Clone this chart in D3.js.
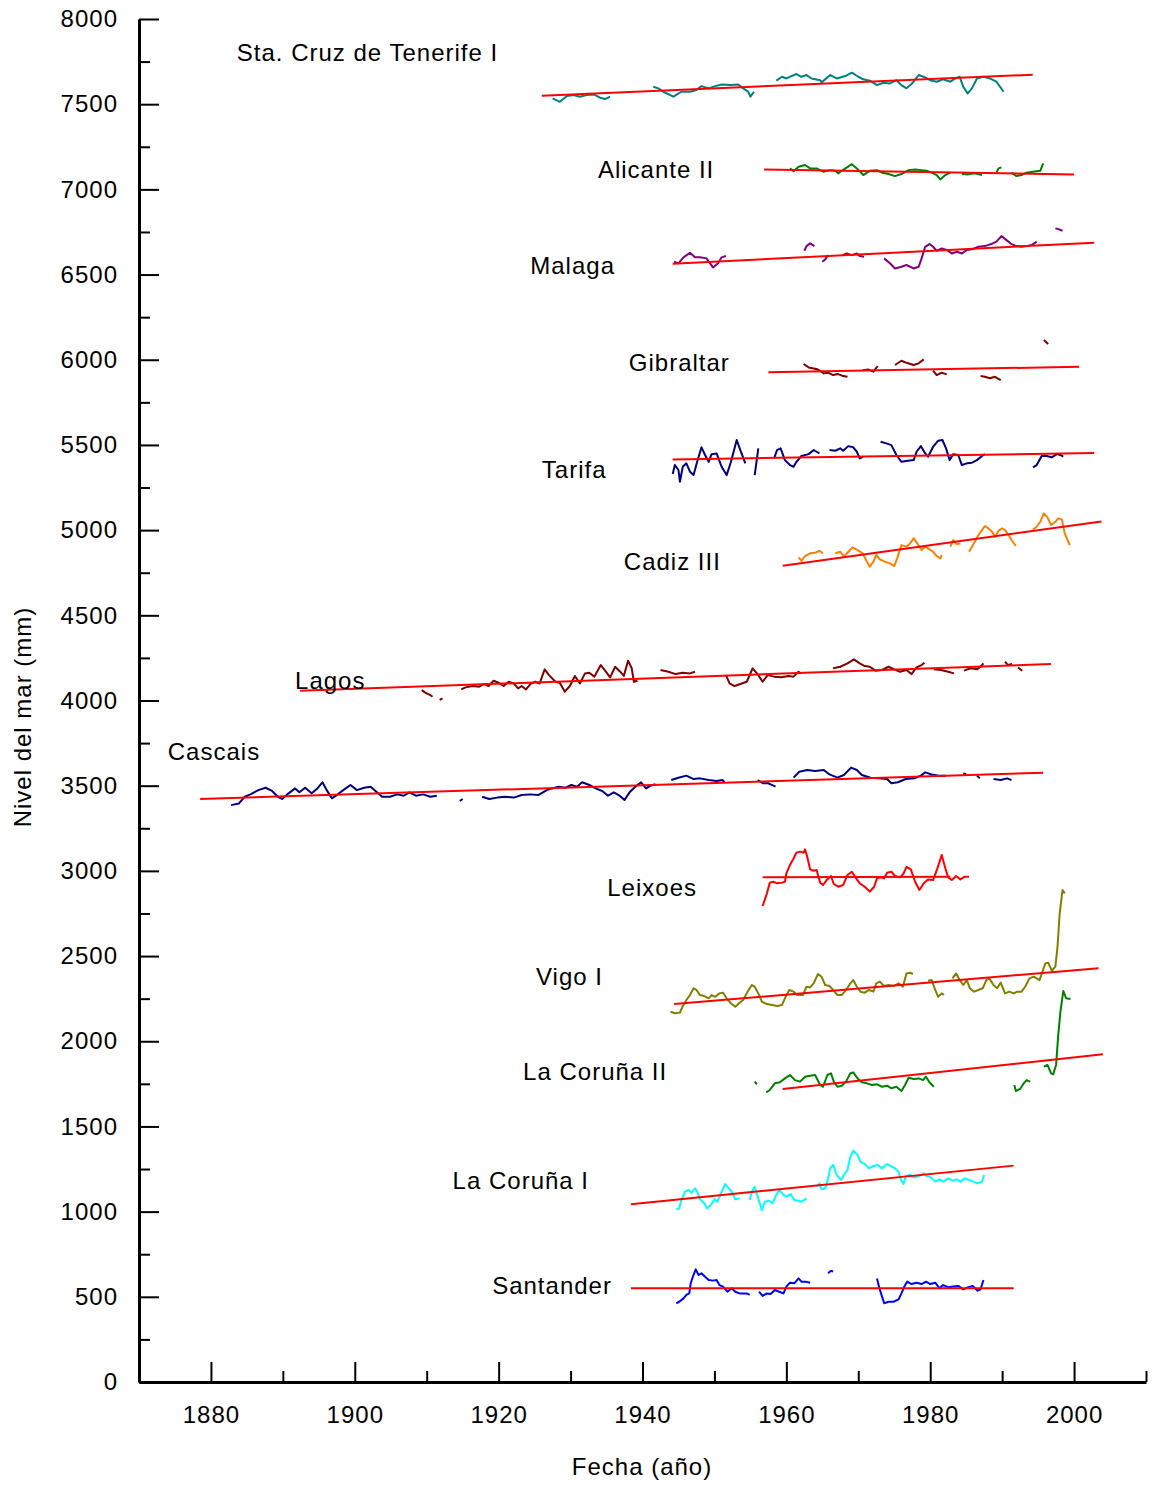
<!DOCTYPE html>
<html>
<head>
<meta charset="utf-8">
<script src="https://cdn.jsdelivr.net/npm/d3@7"></script>
<style>
  html, body { margin: 0; padding: 0; background: #fff; }
  svg text { font-family: "Liberation Sans", Arial, sans-serif; fill: #000; letter-spacing: 1px; }
</style>
</head>
<body>
<svg id="chart" width="1156" height="1485"></svg>
<script>
// Tide-gauge records: [year, sea level in mm]; null marks a gap in the record.
const tenerife = [[1927.5,7534],[1928.5,7514],[1929.5,7548],[1930.4,7554],[1931.3,7544],[1932.2,7554],[1933.2,7557],[1934.1,7538],[1934.8,7530],[1935.5,7544],null,
  [1941.5,7602],[1942.2,7593],[1942.9,7573],[1944.3,7544],[1945.4,7573],[1946.6,7573],[1947.5,7583],[1948.2,7606],[1949.2,7593],[1950.1,7606],[1951.0,7616],[1952.2,7612],[1953.3,7616],[1954.0,7593],[1954.7,7573],[1955.0,7544],[1955.5,7573],null,
  [1958.6,7638],[1959.4,7661],[1960.0,7651],[1960.7,7665],[1961.4,7677],[1962.1,7661],[1962.8,7671],[1963.5,7651],[1964.7,7641],[1964.9,7628],[1966.1,7671],[1967.0,7651],[1968.2,7665],[1969.1,7685],[1970.0,7661],[1970.7,7646],[1971.6,7638],[1972.6,7612],[1973.5,7626],[1974.4,7622],[1975.3,7641],[1976.0,7612],[1976.7,7593],[1977.4,7618],[1978.4,7671],[1979.3,7657],[1980.0,7641],[1980.9,7632],[1981.8,7646],[1982.8,7632],[1983.5,7651],[1984.1,7661],[1984.6,7602],[1985.2,7563],[1985.8,7593],[1986.5,7651],[1987.4,7661],[1988.3,7651],[1989.2,7632],[1990.2,7573]];
const tenerifeTrend = [[1926.0,7550],[1994.25,7673]];

const alicante = [[1960.5,7123],[1961.0,7107],[1961.7,7133],[1962.6,7143],[1963.3,7123],[1964.2,7123],[1965.1,7104],[1966.1,7113],[1966.8,7109],[1967.2,7094],[1967.7,7109],[1969.1,7148],[1969.8,7123],[1970.7,7084],[1971.6,7109],[1972.6,7113],[1973.3,7098],[1974.2,7090],[1975.1,7078],[1976.0,7090],[1977.0,7113],[1977.9,7117],[1978.8,7113],[1979.5,7109],[1980.2,7098],[1980.9,7084],[1981.4,7058],[1982.1,7084],[1982.8,7098],null,
  [1984.4,7090],[1985.3,7088],[1986.2,7094],[1987.2,7084],null,
  [1989.2,7098],[1989.5,7123],[1989.9,7129],null,
  [1991.3,7098],[1992.0,7078],[1992.7,7084],[1993.4,7098],[1994.3,7104],[1995.3,7109],[1995.7,7152]];
const alicanteTrend = [[1956.9,7117],[2000.0,7088]];

const malaga = [[1944.4,6575],[1945.0,6566],[1945.7,6601],[1946.6,6628],[1947.3,6601],[1948.0,6601],[1948.9,6595],[1949.4,6566],[1949.8,6542],[1950.5,6566],[1951.0,6601],[1951.6,6609],null,
  [1962.5,6640],[1962.8,6667],[1963.3,6683],[1963.9,6667],null,
  [1965.0,6575],[1965.4,6589],[1965.8,6614],null,
  [1967.8,6614],[1968.4,6624],[1969.1,6614],[1969.8,6624],[1970.2,6609],[1970.8,6605],null,
  [1973.6,6595],[1974.4,6566],[1975.1,6536],[1976.0,6546],[1976.7,6556],[1977.7,6536],[1978.4,6546],[1978.8,6595],[1979.3,6663],[1979.9,6679],[1980.4,6663],[1980.9,6640],[1981.6,6653],[1982.3,6644],[1983.0,6624],[1983.7,6634],[1984.4,6624],[1985.1,6644],[1985.8,6648],[1986.7,6663],[1987.6,6667],[1988.5,6679],[1989.2,6693],[1989.9,6726],[1990.6,6702],[1991.3,6679],[1992.0,6667],[1992.7,6663],[1993.4,6667],[1994.1,6673],[1994.8,6693],null,
  [1997.4,6771],[1997.8,6767],[1998.4,6757]];
const malagaTrend = [[1944.2,6563],[2002.8,6687]];

const gibraltar = [[1962.4,5975],[1963.1,5955],[1963.8,5949],[1964.4,5943],[1965.2,5920],[1965.8,5924],[1966.5,5910],[1967.2,5916],[1967.9,5904],[1968.5,5900],null,
  [1970.6,5939],[1971.4,5943],[1972.1,5930],[1972.7,5963],null,
  [1975.1,5969],[1976.0,5994],[1976.7,5982],[1977.7,5969],[1978.4,5979],[1979.1,6002],null,
  [1980.4,5936],[1980.9,5910],[1981.6,5924],[1982.3,5914],null,
  [1987.0,5904],[1987.6,5900],[1988.3,5891],[1989.0,5900],[1989.8,5881],null,
  [1995.8,6116],[1996.4,6092]];
const gibraltarTrend = [[1957.5,5926],[2000.7,5959]];

const tarifa = [[1944.2,5329],[1944.5,5382],[1945.0,5353],[1945.2,5284],[1945.6,5372],[1946.1,5392],[1946.6,5343],[1947.1,5323],[1947.6,5401],[1948.2,5486],[1948.7,5441],[1949.2,5401],[1949.6,5446],[1950.3,5450],[1951.0,5372],[1951.7,5323],[1952.3,5401],[1953.1,5529],[1953.6,5470],[1954.3,5392],null,
  [1955.6,5323],[1956.1,5480],null,
  [1958.3,5421],[1958.7,5470],[1959.2,5480],[1959.8,5411],[1960.5,5382],[1961.0,5372],[1961.4,5401],[1962.1,5435],[1963.1,5446],[1963.8,5470],[1964.2,5460],[1964.6,5450],null,
  [1966.0,5470],[1966.8,5466],[1967.5,5480],[1967.9,5466],[1968.6,5493],[1969.3,5486],[1969.8,5460],[1970.2,5421],[1970.7,5431],null,
  [1973.1,5519],[1973.9,5509],[1974.6,5499],[1975.3,5441],[1976.0,5401],[1976.9,5407],[1977.7,5411],[1978.1,5460],[1978.7,5493],[1979.3,5450],[1979.7,5431],[1980.4,5489],[1981.1,5525],[1981.7,5529],[1982.2,5480],[1982.7,5411],[1983.2,5446],[1983.9,5441],[1984.4,5382],[1985.1,5392],[1985.8,5396],[1986.5,5411],[1987.2,5435],[1987.6,5446],null,
  [1994.3,5368],[1994.8,5382],[1995.5,5435],[1996.2,5435],[1996.9,5427],[1997.6,5446],[1998.1,5441],[1998.5,5431]];
const tarifaTrend = [[1944.2,5415],[2002.8,5452]];

const cadiz = [[1961.7,4840],[1962.1,4820],[1962.6,4848],[1963.3,4864],[1964.0,4867],[1964.6,4879],[1965.1,4864],null,
  [1966.8,4864],[1967.5,4873],[1968.0,4844],[1968.5,4867],[1969.2,4899],[1969.9,4883],[1970.6,4864],[1971.2,4815],[1971.6,4785],[1972.1,4815],[1972.5,4854],[1973.0,4828],[1973.7,4815],[1974.4,4805],[1975.0,4789],[1975.4,4834],[1976.0,4912],[1976.7,4903],[1977.2,4922],[1977.7,4952],[1978.2,4922],[1978.8,4883],[1979.3,4903],[1979.9,4887],[1980.4,4873],[1980.9,4848],[1981.4,4834],[1981.6,4854],null,
  [1982.8,4903],[1983.2,4942],[1983.7,4918],[1984.2,4922],null,
  [1985.4,4873],[1985.8,4903],[1986.2,4932],[1986.7,4971],[1987.2,5000],[1987.6,5024],[1988.1,5010],[1988.6,4991],[1989.0,4961],[1989.5,4997],[1990.0,5010],[1990.4,5000],[1990.9,4971],[1991.3,4942],[1991.9,4907],null,
  [1994.3,5004],[1994.8,5020],[1995.3,5049],[1995.8,5098],[1996.3,5075],[1996.8,5030],[1997.4,5049],[1997.8,5069],[1998.3,5063],[1998.7,4981],[1999.4,4912]];
const cadizTrend = [[1959.5,4791],[2003.8,5051]];

const lagos = [[1909.3,4061],[1909.8,4046],[1910.5,4032],[1910.8,4022],null,
  [1911.8,4003],[1912.2,4012],null,
  [1914.8,4065],[1915.4,4077],[1916.4,4085],[1917.3,4081],[1918.0,4097],[1918.6,4085],[1919.3,4116],[1920.0,4104],[1920.7,4085],[1921.4,4110],[1922.1,4100],[1922.7,4071],[1923.2,4085],[1923.8,4065],[1924.5,4100],[1925.1,4110],[1925.7,4100],[1926.4,4183],[1927.0,4149],[1927.9,4110],[1928.5,4104],[1929.2,4052],[1929.9,4085],[1930.6,4144],[1931.3,4100],[1932.0,4159],[1932.6,4163],[1933.3,4140],[1934.2,4208],[1934.8,4175],[1935.5,4136],[1936.2,4198],[1936.9,4169],[1937.4,4144],[1938.0,4234],[1938.5,4189],[1938.8,4110],[1939.3,4116],null,
  [1942.5,4179],[1943.6,4169],[1944.6,4155],[1945.6,4163],[1946.6,4159],[1947.3,4169],null,
  [1951.6,4149],[1952.1,4100],[1952.8,4085],[1953.8,4100],[1954.5,4110],[1955.3,4189],[1956.0,4155],[1956.7,4110],[1957.4,4149],[1958.3,4140],[1959.3,4136],[1960.3,4144],[1961.0,4140],[1961.7,4169],[1962.0,4159],null,
  [1966.5,4189],[1967.5,4198],[1968.5,4218],[1969.4,4241],[1970.2,4218],[1970.9,4202],[1971.6,4198],[1972.4,4175],[1973.3,4179],[1974.2,4198],[1975.0,4183],[1975.8,4169],[1976.7,4179],[1977.4,4155],[1978.1,4194],[1978.8,4208],[1979.2,4222],null,
  [1980.5,4183],[1981.5,4179],[1982.5,4169],[1983.3,4159],null,
  [1984.7,4175],[1985.6,4189],[1986.5,4183],[1987.0,4198],[1987.4,4218],null,
  [1990.4,4228],[1990.8,4208],[1991.4,4214],null,
  [1992.2,4194],[1992.8,4175]];
const lagosTrend = [[1892.4,4057],[1996.8,4214]];

const cascais = [[1882.8,3386],[1883.9,3396],[1884.7,3435],[1885.5,3449],[1886.6,3474],[1887.6,3488],[1888.5,3469],[1889.3,3435],[1889.9,3422],[1890.8,3455],[1891.7,3484],[1892.3,3461],[1893.1,3488],[1894.0,3455],[1894.8,3484],[1895.5,3520],[1896.1,3474],[1896.8,3426],[1897.5,3445],[1898.4,3474],[1899.4,3504],[1900.3,3474],[1901.3,3488],[1902.2,3494],[1903.0,3465],[1903.8,3435],[1904.9,3435],[1905.9,3449],[1906.8,3441],[1907.6,3461],[1908.5,3441],[1909.5,3449],[1910.5,3435],[1911.4,3441],null,
  [1914.6,3410],[1915.0,3422],null,
  [1917.7,3435],[1918.7,3422],[1919.8,3430],[1920.9,3435],[1922.1,3430],[1923.2,3445],[1924.4,3449],[1925.5,3445],[1926.7,3474],[1927.4,3484],[1928.3,3494],[1929.3,3488],[1930.1,3504],[1930.9,3494],[1931.6,3520],[1932.6,3504],[1933.5,3484],[1934.4,3469],[1935.2,3441],[1936.0,3461],[1936.7,3445],[1937.5,3416],[1938.2,3461],[1939.0,3494],[1939.8,3520],[1940.5,3484],[1941.1,3500],[1941.8,3508],null,
  [1944.0,3533],[1945.0,3547],[1946.1,3559],[1947.1,3539],[1948.0,3543],[1949.2,3533],[1950.3,3527],[1951.1,3533],[1951.4,3520],null,
  [1956.0,3533],[1956.8,3514],[1957.5,3514],[1958.5,3494],null,
  [1961.0,3547],[1961.8,3582],[1962.9,3592],[1964.0,3586],[1965.2,3592],[1966.0,3566],[1967.1,3547],[1968.0,3563],[1969.0,3606],[1969.8,3592],[1970.5,3563],[1971.7,3547],[1972.8,3543],[1974.0,3539],[1974.6,3514],[1975.5,3520],[1976.6,3539],[1977.8,3543],[1978.7,3559],[1979.3,3578],[1980.2,3566],[1981.2,3559],[1982.2,3559],null,
  [1984.6,3572],[1985.0,3567],null,
  [1986.5,3559],[1986.9,3543],null,
  [1988.8,3539],[1989.8,3533],[1990.7,3543],[1991.3,3533]];
const cascaisTrend = [[1878.5,3422],[1995.7,3576]];

const leixoes = [[1956.7,2794],[1956.9,2819],[1957.3,2868],[1957.7,2931],[1958.2,2936],[1958.7,2927],[1959.4,2931],[1959.8,2936],[1960.0,2985],[1960.5,3034],[1961.0,3073],[1961.4,3107],[1961.9,3113],[1962.4,3107],[1962.6,3126],[1962.9,3083],[1963.3,3009],[1963.8,3001],[1964.2,3005],[1964.7,2931],[1965.1,2917],[1965.6,2946],[1966.2,2970],[1966.6,2923],[1967.2,2907],[1967.9,2917],[1968.5,2976],[1969.1,2995],[1969.7,2956],[1970.2,2927],[1970.9,2907],[1971.6,2878],[1972.2,2907],[1972.6,2956],[1973.1,2962],[1973.6,2956],[1974.0,2989],[1974.6,2995],[1975.1,2970],[1975.8,2962],[1976.3,2985],[1976.7,3024],[1977.3,3009],[1977.9,2936],[1978.5,2888],[1979.1,2927],[1979.7,2950],[1980.4,2946],[1981.0,3015],[1981.6,3093],[1982.1,3015],[1982.5,2962],[1983.0,2946],[1983.6,2970],[1984.2,2950],[1984.8,2966],[1985.4,2966]];
const leixoesTrend = [[1956.7,2962],[1982.8,2966]];

const vigo = [[1943.9,2173],[1944.5,2164],[1945.2,2168],[1945.6,2207],[1946.1,2242],[1946.6,2271],[1947.1,2311],[1947.5,2301],[1948.0,2271],[1948.6,2265],[1949.2,2252],[1949.6,2271],[1950.1,2261],[1950.7,2281],[1951.2,2285],[1951.7,2252],[1952.3,2222],[1952.9,2203],[1953.5,2226],[1954.0,2242],[1954.6,2291],[1955.2,2330],[1955.6,2320],[1956.1,2281],[1956.6,2232],[1957.3,2218],[1958.0,2213],[1958.7,2207],[1959.4,2213],[1959.8,2252],[1960.4,2301],[1961.0,2291],[1961.5,2271],[1962.3,2271],[1962.8,2320],[1963.3,2316],[1963.8,2340],[1964.4,2395],[1964.9,2379],[1965.4,2330],[1966.0,2324],[1966.5,2301],[1967.1,2271],[1967.7,2271],[1968.3,2301],[1968.9,2340],[1969.3,2359],[1969.8,2320],[1970.3,2291],[1970.9,2285],[1971.5,2301],[1972.1,2291],[1972.5,2340],[1973.0,2350],[1973.6,2324],[1974.2,2330],[1974.9,2324],[1975.6,2340],[1976.2,2320],[1976.7,2398],[1977.2,2402],[1977.6,2395],null,
  [1979.7,2355],[1980.2,2359],[1980.7,2301],[1981.1,2261],[1981.6,2281],[1981.9,2271],null,
  [1983.1,2369],[1983.6,2398],[1984.1,2359],[1984.6,2330],[1985.1,2359],[1985.5,2311],[1986.1,2291],[1986.7,2301],[1987.3,2311],[1987.8,2359],[1988.2,2369],[1988.8,2330],[1989.3,2311],[1989.8,2344],[1990.4,2281],[1991.0,2291],[1991.6,2281],[1992.1,2291],[1992.7,2291],[1993.2,2320],[1993.8,2369],[1994.4,2379],[1995.2,2359],[1995.6,2408],[1996.0,2457],[1996.4,2461],[1996.9,2414],[1997.4,2438],[1997.7,2555],[1998.0,2751],[1998.4,2888],[1998.7,2868]];
const vigoTrend = [[1944.4,2218],[2003.4,2428]];

const coruna2 = [[1955.6,1763],[1955.9,1747],null,
  [1957.2,1700],[1957.7,1714],[1958.4,1753],[1959.1,1759],[1959.8,1782],[1960.5,1802],[1961.2,1772],[1961.9,1763],[1962.6,1792],[1963.3,1798],[1964.0,1802],[1964.7,1743],[1965.1,1733],[1965.7,1802],[1966.2,1812],[1966.6,1763],[1967.1,1733],[1967.7,1739],[1968.3,1763],[1968.9,1812],[1969.3,1817],[1969.9,1782],[1970.5,1759],[1971.2,1753],[1971.9,1743],[1972.6,1747],[1973.3,1733],[1974.0,1739],[1974.6,1724],[1975.3,1733],[1976.0,1708],[1976.5,1743],[1977.0,1786],[1977.7,1778],[1978.4,1782],[1979.0,1772],[1979.4,1792],[1979.9,1759],[1980.5,1733],null,
  [1991.7,1743],[1991.9,1708],[1992.5,1720],[1993.0,1753],[1993.4,1772],[1993.9,1763],null,
  [1995.8,1851],[1996.3,1861],[1996.8,1812],[1997.1,1806],[1997.5,1861],[1997.8,2037],[1998.1,2173],[1998.5,2295],[1998.9,2252],[1999.5,2248]];
const coruna2Trend = [[1959.5,1720],[2004.0,1923]];

const coruna1 = [[1944.7,1013],[1945.1,1019],[1945.4,1068],[1945.9,1117],[1946.4,1127],[1946.8,1111],[1947.3,1137],[1947.6,1117],[1948.0,1072],[1948.6,1049],[1949.0,1019],[1949.5,1039],[1950.0,1072],[1950.4,1058],[1950.9,1107],[1951.5,1162],[1952.0,1137],[1952.4,1117],[1952.9,1072],[1953.5,1078],null,
  [1954.9,1068],[1955.2,1117],[1955.6,1146],[1956.1,1078],[1956.6,1009],[1957.0,1058],[1957.6,1064],[1958.1,1049],[1958.6,1098],[1959.0,1127],[1959.6,1098],[1960.0,1088],[1960.6,1103],[1961.1,1068],[1961.7,1064],[1962.1,1058],[1962.6,1072],[1962.8,1078],null,
  [1964.2,1146],[1964.6,1166],[1964.9,1131],[1965.4,1137],[1965.7,1176],[1966.1,1254],[1966.5,1274],[1967.0,1215],[1967.6,1186],[1968.0,1215],[1968.5,1244],[1968.9,1323],[1969.3,1358],[1969.9,1332],[1970.3,1293],[1970.9,1279],[1971.5,1254],[1972.1,1268],[1972.7,1274],[1973.3,1254],[1974.0,1279],[1974.5,1268],[1975.1,1254],[1975.6,1234],[1975.9,1189],[1976.3,1162],[1976.6,1209],[1977.2,1215],[1977.8,1201],[1978.4,1209],[1979.1,1225],[1979.5,1209],[1980.1,1201],[1980.7,1176],[1981.3,1189],[1981.8,1176],[1982.5,1195],[1983.1,1182],[1983.7,1189],[1984.2,1176],[1984.8,1195],[1985.4,1186],[1986.0,1176],[1986.6,1166],[1987.2,1176],[1987.5,1215]];
const coruna1Trend = [[1938.4,1043],[1991.6,1270]];

const santander = [[1944.7,462],[1945.1,471],[1945.7,491],[1946.1,511],[1946.5,520],[1946.7,579],[1947.0,618],[1947.4,661],[1947.8,628],[1948.2,638],[1948.7,618],[1949.2,599],[1949.8,595],[1950.3,599],[1950.7,569],[1951.2,560],[1951.8,530],[1952.4,550],[1952.9,530],[1953.5,520],[1954.1,520],[1954.5,520],[1954.9,511],null,
  [1956.2,530],[1956.7,505],[1957.3,520],[1957.8,516],[1958.4,540],[1959.0,530],[1959.6,520],[1960.0,560],[1960.5,583],[1961.1,579],[1961.7,608],[1962.1,589],[1962.7,589],[1963.3,583],null,
  [1965.8,638],[1966.2,653],[1966.5,648],null,
  [1972.6,608],[1972.9,556],[1973.3,501],[1973.6,462],[1974.2,471],[1974.9,471],[1975.6,485],[1976.0,520],[1976.4,560],[1976.8,589],[1977.4,575],[1978.1,583],[1978.8,575],[1979.4,589],[1980.0,575],[1980.7,583],[1981.3,550],[1981.8,569],[1982.5,556],[1983.2,560],[1983.9,564],[1984.6,544],[1985.3,556],[1985.9,564],[1986.6,536],[1987.0,544],[1987.4,599]];
const santanderTrend = [[1938.4,550],[1991.6,550]];

// Station names, with the [year, level] where each name is written.
const stationNames = ["Sta. Cruz de Tenerife I","Alicante II","Malaga","Gibraltar","Tarifa","Cadiz III","Lagos","Cascais","Leixoes","Vigo I","La Coruña II","La Coruña I","Santander"];
const nameAnchors = [[1883.6,7800],[1933.8,7119],[1924.4,6550],[1938.1,5986],[1926.0,5358],[1937.4,4813],[1891.7,4114],[1874.0,3703],[1935.1,2899],[1925.2,2377],[1923.4,1819],[1913.6,1180],[1919.1,563]];
const records = [tenerife, alicante, malaga, gibraltar, tarifa, cadiz, lagos, cascais, leixoes, vigo, coruna2, coruna1, santander];
const trends = [tenerifeTrend, alicanteTrend, malagaTrend, gibraltarTrend, tarifaTrend, cadizTrend, lagosTrend, cascaisTrend, leixoesTrend, vigoTrend, coruna2Trend, coruna1Trend, santanderTrend];
const colors = ["#008080","#008000","#800080","#800000","#000080","#ff8000","#800000","#000080","#ff0000","#808000","#008000","#00ffff","#0000ff"];

// Axis ticks
const yMajor = d3.range(0, 8001, 500);
const yMinor = d3.range(250, 8000, 500);
const xMajor = [1880, 1900, 1920, 1940, 1960, 1980, 2000];
const xMinor = [1890, 1910, 1930, 1950, 1970, 1990, 2010];

const svg = d3.select("#chart");
const x = d3.scaleLinear().domain([1870, 2010]).range([139, 1146]);
const y = d3.scaleLinear().domain([0, 8000]).range([1382, 19]);
const FONT = 24;

// Records and their trend lines
const line = d3.line().defined(d => d !== null).x(d => x(d[0])).y(d => y(d[1]));
const plot = svg.append("g");
records.forEach((rec, i) => {
  plot.append("path").attr("d", line(rec)).attr("fill", "none")
    .attr("stroke", colors[i]).attr("stroke-width", 2).attr("stroke-linejoin", "round");
});
trends.forEach(tr => {
  plot.append("path").attr("d", line(tr)).attr("fill", "none")
    .attr("stroke", "#ff0000").attr("stroke-width", 2);
});

// Station names
stationNames.forEach((name, i) => {
  svg.append("text").attr("x", x(nameAnchors[i][0])).attr("y", y(nameAnchors[i][1]))
    .attr("dy", "0.35em").attr("font-size", FONT).text(name);
});

// Axes
function styleAxis(g) {
  g.selectAll("path.domain").attr("stroke", "#000").attr("stroke-width", 3);
  g.selectAll(".tick line").attr("stroke", "#000").attr("stroke-width", 2);
  g.selectAll(".tick text").attr("font-size", FONT).attr("font-family", "Liberation Sans, Arial, sans-serif").attr("fill", "#000");
}
svg.append("g").attr("transform", "translate(139,0)")
  .call(d3.axisLeft(y).tickValues(yMinor).tickSizeInner(-11).tickSizeOuter(0).tickFormat(""))
  .call(g => g.select(".domain").remove())
  .call(styleAxis);
svg.append("g").attr("transform", "translate(139,0)")
  .call(d3.axisLeft(y).tickValues(yMajor).tickSizeInner(-20).tickSizeOuter(0).tickPadding(21).tickFormat(d3.format("d")))
  .call(styleAxis);
svg.append("g").attr("transform", "translate(0,1382)")
  .call(d3.axisBottom(x).tickValues(xMinor).tickSizeInner(-11).tickSizeOuter(0).tickFormat(""))
  .call(g => g.select(".domain").remove())
  .call(styleAxis);
svg.append("g").attr("transform", "translate(0,1382)")
  .call(d3.axisBottom(x).tickValues(xMajor).tickSizeInner(-20).tickSizeOuter(0).tickPadding(24).tickFormat(d3.format("d")))
  .call(styleAxis);

// Axis titles
svg.append("text").attr("transform", "translate(31,717) rotate(-90)")
  .attr("text-anchor", "middle").attr("font-size", FONT).text("Nivel del mar (mm)");
svg.append("text").attr("x", 642).attr("y", 1475)
  .attr("text-anchor", "middle").attr("font-size", FONT).text("Fecha (año)");
</script>
</body>
</html>
